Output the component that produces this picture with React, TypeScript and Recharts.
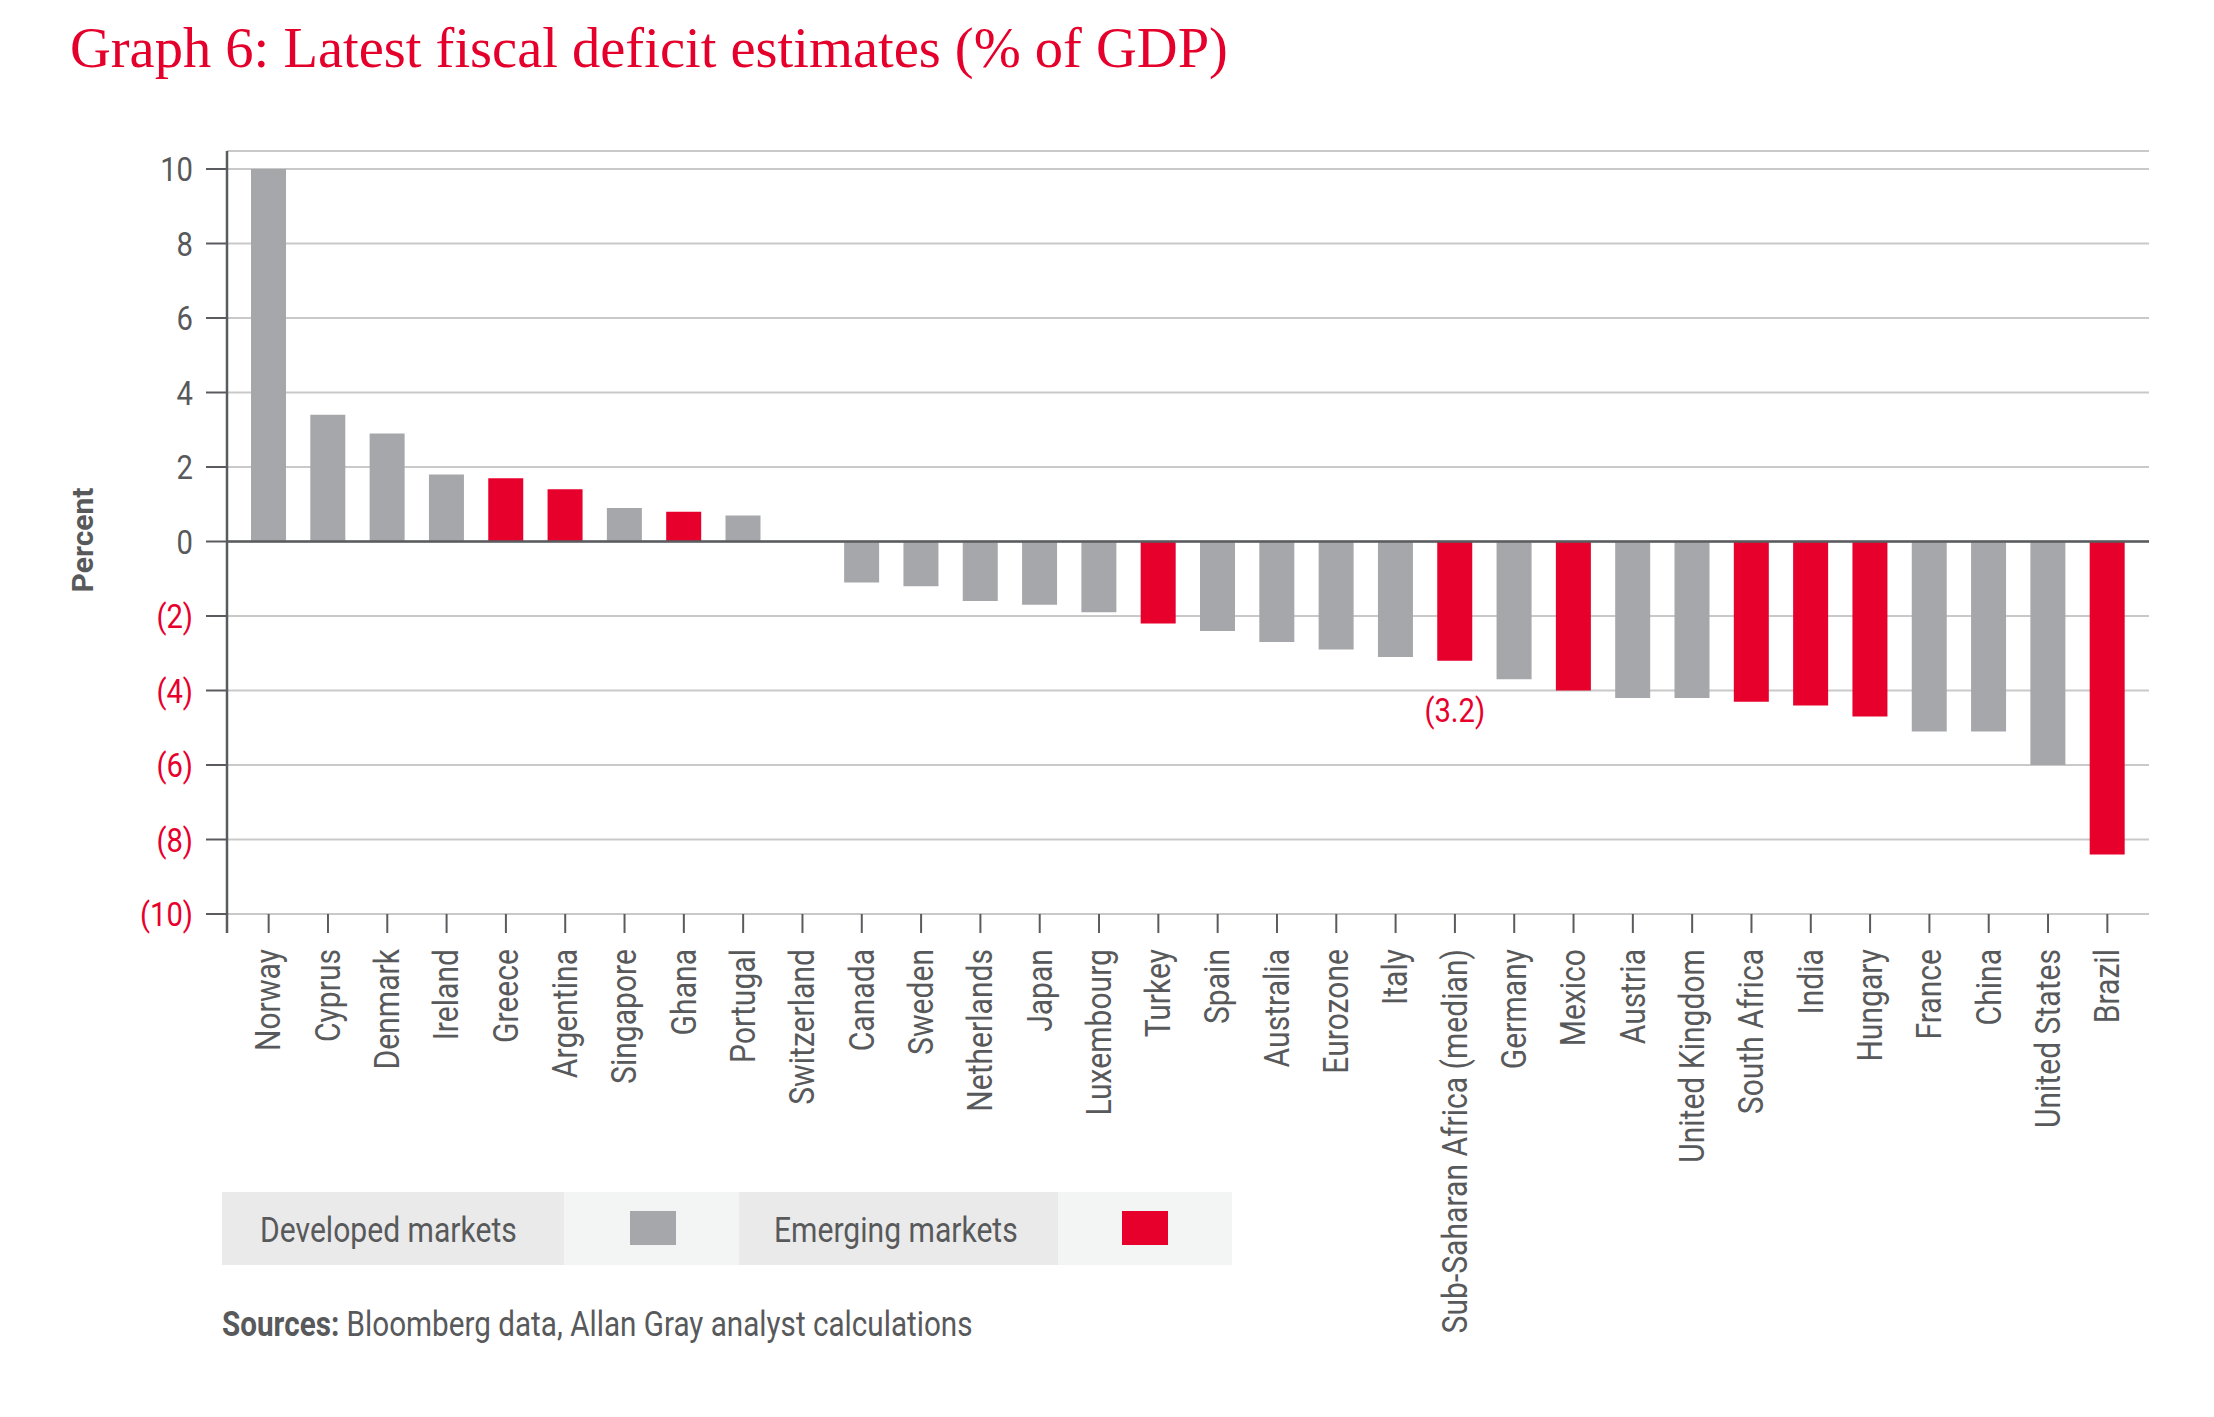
import React from 'react';
import { BarChart, Bar, XAxis, YAxis, CartesianGrid, ReferenceLine, Cell, LabelList } from 'recharts';

// Latest fiscal balance estimates, % of GDP (negative = deficit)
const countries = [
  'Norway', 'Cyprus', 'Denmark', 'Ireland', 'Greece', 'Argentina', 'Singapore', 'Ghana',
  'Portugal', 'Switzerland', 'Canada', 'Sweden', 'Netherlands', 'Japan', 'Luxembourg', 'Turkey',
  'Spain', 'Australia', 'Eurozone', 'Italy', 'Sub-Saharan Africa (median)', 'Germany', 'Mexico',
  'Austria', 'United Kingdom', 'South Africa', 'India', 'Hungary', 'France', 'China',
  'United States', 'Brazil',
];
const balances = [
  10.0, 3.4, 2.9, 1.8, 1.7, 1.4, 0.9, 0.8,
  0.7, 0.0, -1.1, -1.2, -1.6, -1.7, -1.9, -2.2,
  -2.4, -2.7, -2.9, -3.1, -3.2, -3.7, -4.0,
  -4.2, -4.2, -4.3, -4.4, -4.7, -5.1, -5.1,
  -6.0, -8.4,
];
const marketGroup = [
  'DM', 'DM', 'DM', 'DM', 'EM', 'EM', 'DM', 'EM',
  'DM', 'DM', 'DM', 'DM', 'DM', 'DM', 'DM', 'EM',
  'DM', 'DM', 'DM', 'DM', 'EM', 'DM', 'EM',
  'DM', 'DM', 'EM', 'EM', 'EM', 'DM', 'DM',
  'DM', 'EM',
];
const annotated = ['Sub-Saharan Africa (median)'];
const yTicks = [10, 8, 6, 4, 2, 0, -2, -4, -6, -8, -10];
const legendItems = [
  { key: 'DM', label: 'Developed markets' },
  { key: 'EM', label: 'Emerging markets' },
];

const RED = '#E8002C';
const GREY = '#A6A7AB';
const TEXT = '#58595B';
const AXIS = '#5A5B5E';
const GRID = '#C9C9C9';
const FONT = 'Roboto, "Noto Sans", sans-serif';
const SQUEEZE = 0.86;

const groupColor: Record<string, string> = { DM: GREY, EM: RED };

const data = countries.map((name, i) => ({
  name,
  value: balances[i],
  group: marketGroup[i],
  note: annotated.includes(name) ? balances[i] : null,
}));

const fmt = (v: number, digits = 0) =>
  v < 0 ? `(${Math.abs(v).toFixed(digits)})` : v.toFixed(digits);

function YTick(props: any) {
  const { x, y, payload } = props;
  const v = payload.value as number;
  return (
    <text
      transform={`translate(${x} ${y}) scale(${SQUEEZE} 1)`}
      dy="0.36em"
      textAnchor="end"
      fill={v < 0 ? RED : TEXT}
      fontFamily={FONT}
      fontSize={34}
    >
      {fmt(v)}
    </text>
  );
}

function XTick(props: any) {
  const { x, y, payload } = props;
  return (
    <text
      transform={`translate(${x} ${y}) rotate(-90) scale(${SQUEEZE} 1)`}
      textAnchor="end"
      dominantBaseline="central"
      fill={TEXT}
      fontFamily={FONT}
      fontSize={35}
    >
      {payload.value}
    </text>
  );
}

function NoteLabel(props: any) {
  const { x, y, width, height, value } = props;
  if (value === null || value === undefined) return null;
  const end = Math.max(y, y + height);
  return (
    <text
      transform={`translate(${x + width / 2} ${end + 49}) scale(${SQUEEZE} 1)`}
      dy="0.36em"
      textAnchor="middle"
      fill={RED}
      fontFamily={FONT}
      fontSize={34}
    >
      {fmt(value, 1)}
    </text>
  );
}

function Overlay() {
  const boxW = [342, 175, 319, 174];
  const lx = 222;
  const ly = 1192;
  const lh = 73;
  let cursor = lx;
  const boxes: React.ReactNode[] = [];
  legendItems.forEach((item, i) => {
    const textX = cursor;
    const textW = boxW[i * 2];
    boxes.push(<rect key={`t${i}`} x={textX} y={ly} width={textW} height={lh} fill="#EAEAEA" />);
    boxes.push(
      <text
        key={`l${i}`}
        transform={`translate(${textX + (i === 0 ? 38 : 35)} ${ly + 50}) scale(${SQUEEZE} 1)`}
        fill={TEXT}
        fontFamily={FONT}
        fontSize={35}
      >
        {item.label}
      </text>
    );
    cursor += textW;
    const swW = boxW[i * 2 + 1];
    boxes.push(<rect key={`s${i}`} x={cursor} y={ly} width={swW} height={lh} fill="#F3F4F4" />);
    boxes.push(
      <rect
        key={`c${i}`}
        x={cursor + (i === 0 ? 66 : 64)}
        y={ly + 19}
        width={46}
        height={34}
        fill={groupColor[item.key]}
      />
    );
    cursor += swW;
  });

  return (
    <svg
      width={2214}
      height={1417}
      style={{ position: 'absolute', left: 0, top: 0, pointerEvents: 'none' }}
    >
      <text
        x={70}
        y={67}
        fill="#E4002B"
        fontFamily='"Liberation Serif", "DejaVu Serif", serif'
        fontSize={56.5}
      >
        Graph 6: Latest fiscal deficit estimates (% of GDP)
      </text>
      <text
        transform="translate(82 540) rotate(-90)"
        textAnchor="middle"
        dominantBaseline="central"
        fill={TEXT}
        fontFamily={FONT}
        fontWeight={700}
        fontSize={30}
      >
        Percent
      </text>
      {/* value axis continues past the category axis by one tick length */}
      <line x1={227} y1={913} x2={227} y2={933} stroke={AXIS} strokeWidth={2.5} />
      {boxes}
      <text
        transform={`translate(222 1336) scale(${SQUEEZE} 1)`}
        fill={TEXT}
        fontFamily={FONT}
        fontSize={34.5}
      >
        <tspan fontWeight={700}>Sources:</tspan>
        <tspan> Bloomberg data, Allan Gray analyst calculations</tspan>
      </text>
    </svg>
  );
}

export default function App() {
  return (
    <div
      style={{
        position: 'absolute',
        left: 0,
        top: 0,
        width: 2214,
        height: 1417,
        background: '#ffffff',
        overflow: 'hidden',
      }}
    >
      <div style={{ position: 'absolute', left: 0, top: 0 }}>
        <BarChart
          width={2214}
          height={1417}
          data={data}
          margin={{ top: 151, right: 65, bottom: 53, left: 87 }}
          barCategoryGap={0}
        >
          <CartesianGrid vertical={false} stroke={GRID} strokeWidth={2} />
          <XAxis
            dataKey="name"
            interval={0}
            height={450}
            padding={{ left: 12, right: 12 }}
            axisLine={false}
            tickLine={{ stroke: AXIS, strokeWidth: 2 }}
            tickSize={19}
            tickMargin={16}
            tick={<XTick />}
          />
          <YAxis
            width={140}
            domain={[-10, 10]}
            ticks={yTicks}
            interval={0}
            padding={{ top: 18, bottom: 0 }}
            axisLine={{ stroke: AXIS, strokeWidth: 2.5 }}
            tickLine={{ stroke: AXIS, strokeWidth: 2 }}
            tickSize={21}
            tickMargin={13}
            tick={<YTick />}
            allowDataOverflow
          />
          <Bar dataKey="value" barSize={35} isAnimationActive={false}>
            {data.map((d) => (
              <Cell key={d.name} fill={groupColor[d.group]} />
            ))}
            <LabelList dataKey="note" content={<NoteLabel />} />
          </Bar>
          <ReferenceLine y={0} stroke={AXIS} strokeWidth={2.5} />
        </BarChart>
      </div>
      <Overlay />
    </div>
  );
}
